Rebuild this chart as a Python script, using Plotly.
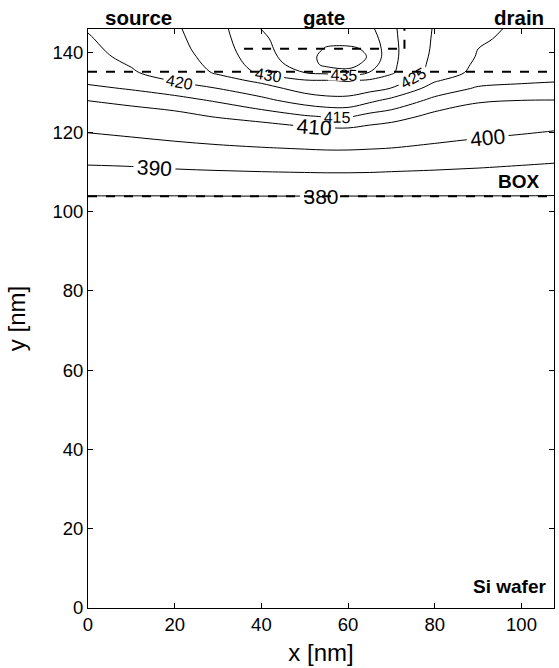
import numpy as np
import plotly.graph_objects as go

# grid positions (nm)
x_nm = [0, 10, 20, 30, 40, 50, 55, 60, 65, 70, 80, 90, 100, 107.5]
y_nm = [0, 100, 104, 108, 112, 116, 120, 124, 128, 131, 133, 135, 137, 139, 141, 143.5, 146]

# temperature (K) read per x column, bottom -> top
temp_x0 = [370, 375.0, 380.1, 385.3, 390.4, 395.3, 400.2, 405.2, 410.1, 413.9, 416.1, 418.0, 418.5, 419.0, 419.3, 419.7, 420.2]
temp_x10 = [370, 375.0, 380.1, 385.5, 390.9, 396.4, 401.6, 406.7, 411.8, 415.4, 417.8, 419.6, 420.2, 420.8, 421.3, 421.8, 422.3]
temp_x20 = [370, 374.5, 380.1, 386.0, 391.9, 397.7, 403.1, 408.3, 413.3, 417.4, 420.3, 421.8, 422.5, 423.0, 423.5, 423.9, 424.3]
temp_x30 = [370, 374.5, 380.2, 386.4, 392.6, 398.8, 404.6, 410.5, 415.6, 420.0, 423.0, 425.6, 426.4, 427.0, 427.5, 428.0, 428.4]
temp_x40 = [370, 374.5, 380.2, 386.7, 393.2, 399.7, 406.0, 412.3, 418.7, 423.0, 426.1, 430.9, 432.3, 433.2, 433.9, 434.5, 435.1]
temp_x50 = [370, 374.0, 380.2, 386.9, 393.7, 400.5, 407.4, 414.6, 422.2, 426.9, 429.6, 435.0, 437.2, 438.0, 437.8, 437.2, 436.5]
temp_x55 = [370, 374.0, 380.2, 387.0, 393.9, 400.9, 407.9, 415.4, 423.5, 427.5, 429.8, 436.0, 441.3, 441.6, 440.4, 438.5, 437.0]
temp_x60 = [370, 374.0, 380.2, 387.0, 393.9, 400.9, 408.0, 415.6, 423.5, 427.6, 430.3, 437.5, 442.5, 442.8, 440.8, 438.0, 436.5]
temp_x65 = [370, 374.0, 380.2, 386.9, 393.7, 400.5, 407.2, 413.5, 421.1, 426.6, 429.3, 434.8, 437.5, 439.5, 439.3, 437.8, 436.2]
temp_x70 = [370, 374.0, 380.2, 386.6, 393.3, 400.0, 406.2, 412.4, 418.7, 424.8, 427.8, 430.6, 431.0, 431.2, 431.2, 431.0, 430.8]
temp_x80 = [370, 374.2, 380.1, 386.3, 392.4, 398.5, 403.7, 408.5, 413.7, 417.8, 420.5, 423.0, 423.5, 423.9, 424.2, 424.4, 424.6]
temp_x90 = [370, 374.4, 380.1, 385.9, 391.5, 397.0, 402.0, 406.3, 410.7, 414.4, 416.7, 418.6, 419.2, 419.7, 420.0, 420.5, 420.9]
temp_x100 = [370, 374.5, 380.1, 385.3, 390.5, 395.6, 400.7, 405.3, 410.0, 413.6, 415.9, 417.6, 418.0, 418.4, 418.7, 419.0, 419.3]
temp_x107 = [370, 374.6, 380.0, 384.9, 389.8, 394.7, 399.6, 404.7, 409.9, 413.2, 415.4, 417.0, 417.4, 417.8, 418.0, 418.3, 418.5]

columns = [temp_x0, temp_x10, temp_x20, temp_x30, temp_x40, temp_x50, temp_x55,
           temp_x60, temp_x65, temp_x70, temp_x80, temp_x90, temp_x100, temp_x107]
z = np.array(columns).T  # rows = y, cols = x

# device structure
interface_y = [103.8, 135.2]
gate_x = [36, 73]
gate_bottom_y = 141
x_range = [0, 107.5]
y_range = [0, 146]

FONT = "Arial, Liberation Sans, sans-serif"

fig = go.Figure()
common = dict(x=x_nm, y=y_nm, z=z, showscale=False,
              colorscale=[[0, "black"], [1, "black"]],
              line=dict(color="black", width=1, smoothing=1),
              hoverinfo="skip")
fig.add_trace(go.Contour(
    **common,
    contours=dict(start=380, end=410, size=10, coloring="none",
                  showlabels=True, labelfont=dict(size=21, color="black", family=FONT))))
fig.add_trace(go.Contour(
    **common,
    contours=dict(start=415, end=440, size=5, coloring="none",
                  showlabels=True, labelfont=dict(size=16, color="black", family=FONT))))

dash = dict(color="black", width=2, dash="dash")
for yy in interface_y:
    fig.add_shape(type="line", x0=x_range[0], x1=x_range[1], y0=yy, y1=yy, line=dash)
fig.add_shape(type="line", x0=gate_x[0], x1=gate_x[1], y0=gate_bottom_y, y1=gate_bottom_y, line=dash)
fig.add_shape(type="line", x0=gate_x[1], x1=gate_x[1], y0=gate_bottom_y, y1=y_range[1], line=dash)

for text, xx in [("source", 11.7), ("gate", 54.5), ("drain", 99.5)]:
    fig.add_annotation(text=f"<b>{text}</b>", x=xx, y=1.0, xref="x", yref="paper",
                       yanchor="bottom", showarrow=False,
                       font=dict(family=FONT, size=20.5, color="black"), yshift=-2)
fig.add_annotation(text="<b>BOX</b>", x=104.8, y=107.5, xanchor="right", showarrow=False,
                   font=dict(family=FONT, size=19, color="black"))
fig.add_annotation(text="<b>Si wafer</b>", x=106.0, y=5.3, xanchor="right", showarrow=False,
                   font=dict(family=FONT, size=19, color="black"))

axis_common = dict(showline=True, linecolor="black", linewidth=1, mirror="ticks",
                   ticks="inside", ticklen=5, tickcolor="black", showgrid=False,
                   zeroline=False, tickfont=dict(family=FONT, size=18.5, color="black"))
fig.update_xaxes(range=x_range, tickvals=[0, 20, 40, 60, 80, 100],
                 title=dict(text="x [nm]", font=dict(family=FONT, size=24, color="black"), standoff=9),
                 **axis_common)
fig.update_yaxes(range=y_range, tickvals=[0, 20, 40, 60, 80, 100, 120, 140],
                 title=dict(text="y [nm]", font=dict(family=FONT, size=24, color="black"), standoff=20),
                 **axis_common)

fig.update_layout(width=559, height=668, margin=dict(l=88, r=5, t=29, b=60),
                  plot_bgcolor="white", paper_bgcolor="white", showlegend=False)

fig.write_html("out.html")
